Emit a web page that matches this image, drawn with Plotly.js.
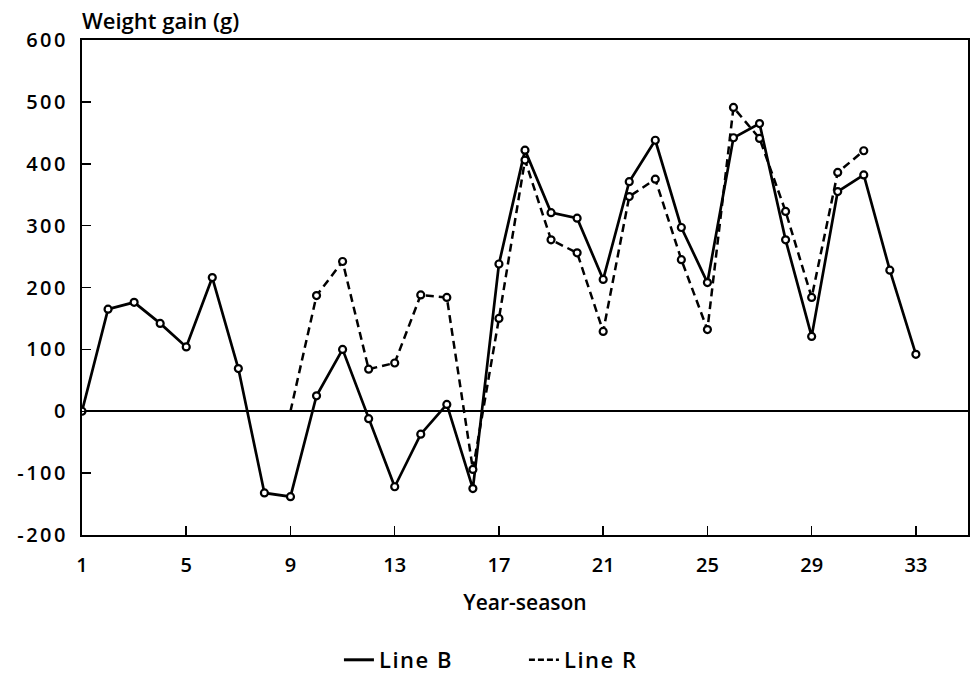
<!DOCTYPE html>
<html>
<head>
<meta charset="utf-8">
<script src="https://cdn.plot.ly/plotly-3.0.1.min.js"></script>
<style>
html,body{margin:0;padding:0;background:#fff;}
#chart{width:970px;height:682px;}
.ytick text{letter-spacing:2.5px;}
.legendtext{letter-spacing:1.5px;}
</style>
</head>
<body>
<div id="chart"></div>
<script>
// Data
const seasonB = [1,2,3,4,5,6,7,8,9,10,11,12,13,14,15,16,17,18,19,20,21,22,23,24,25,26,27,28,29,30,31,32,33];
const lineB = [0,165,176,142,104,216,69,-132,-138,25,100,-12,-122,-37,11,-125,238,422,321,312,213,371,438,297,208,442,465,277,121,355,382,228,92];
const seasonR = [9,10,11,12,13,14,15,16,17,18,19,20,21,22,23,24,25,26,27,28,29,30,31];
const lineR = [0,187,242,68,78,188,184,-94,150,406,277,256,129,347,375,245,132,491,441,323,184,386,421];
const xTicks = [1,5,9,13,17,21,25,29,33];
const yTicks = [-200,-100,0,100,200,300,400,500,600];
const yTickText = ['-200','-100','0','100','200','300','400','500','600'];

const fontFam = '"Open Sans", "DejaVu Sans", sans-serif';

const traces = [
  {
    x: seasonR, y: lineR, type: 'scatter', mode: 'lines',
    line: {color: '#000', width: 2.5, dash: '8px,5px'},
    showlegend: false, hoverinfo: 'skip'
  },
  {
    x: seasonB, y: lineB, type: 'scatter', mode: 'lines+markers',
    line: {color: '#000', width: 2.7},
    marker: {symbol: 'circle', size: 7, color: '#fff', line: {color: '#000', width: 2.2}},
    showlegend: false, hoverinfo: 'skip'
  },
  {
    x: seasonR.slice(1), y: lineR.slice(1), type: 'scatter', mode: 'markers',
    marker: {symbol: 'circle', size: 7, color: '#fff', line: {color: '#000', width: 2.2}},
    showlegend: false, hoverinfo: 'skip'
  },
  {
    x: [null], y: [null], type: 'scatter', mode: 'lines', name: 'Line B',
    line: {color: '#000', width: 3}
  },
  {
    x: [null], y: [null], type: 'scatter', mode: 'lines', name: 'Line R',
    line: {color: '#000', width: 2.5, dash: '6px,3px'}
  }
];

const layout = {
  width: 970, height: 682,
  margin: {l: 82, r: 2, t: 40, b: 146},
  paper_bgcolor: '#fff', plot_bgcolor: '#fff',
  font: {family: fontFam, color: '#000', size: 20, weight: 600},
  xaxis: {
    range: [1, 35], tickvals: xTicks, ticktext: xTicks.map(String),
    ticks: 'inside', ticklen: 9, tickwidth: 1.5, tickcolor: '#000',
    showline: true, linecolor: '#000', linewidth: 2, mirror: true,
    showgrid: false, zeroline: false,
    tickfont: {size: 20, family: fontFam, weight: 600},
    ticklabelstandoff: 11,
    title: {text: 'Year-season', font: {size: 21, family: fontFam, weight: 600}, standoff: 18}
  },
  yaxis: {
    range: [-200, 600], tickvals: yTicks, ticktext: yTickText,
    ticks: 'inside', ticklen: 9, tickwidth: 1.5, tickcolor: '#000',
    showline: true, linecolor: '#000', linewidth: 2, mirror: true,
    showgrid: false, zeroline: true, zerolinecolor: '#000', zerolinewidth: 1.8,
    tickfont: {size: 20, family: fontFam, weight: 600},
    ticklabelstandoff: 8
  },
  legend: {
    orientation: 'h', x: 0.29, xanchor: 'left', y: -0.25, yanchor: 'middle',
    font: {size: 22, family: fontFam, weight: 600}, entrywidth: 140,
    bgcolor: 'rgba(0,0,0,0)'
  },
  annotations: [{
    text: 'Weight gain (g)', xref: 'paper', yref: 'paper', x: 0, y: 1,
    xanchor: 'left', yanchor: 'bottom', yshift: 3, xshift: -2, showarrow: false,
    font: {size: 22, family: fontFam, weight: 600}
  }]
};

Plotly.newPlot('chart', traces, layout, {displayModeBar: false, staticPlot: true});
</script>
</body>
</html>
